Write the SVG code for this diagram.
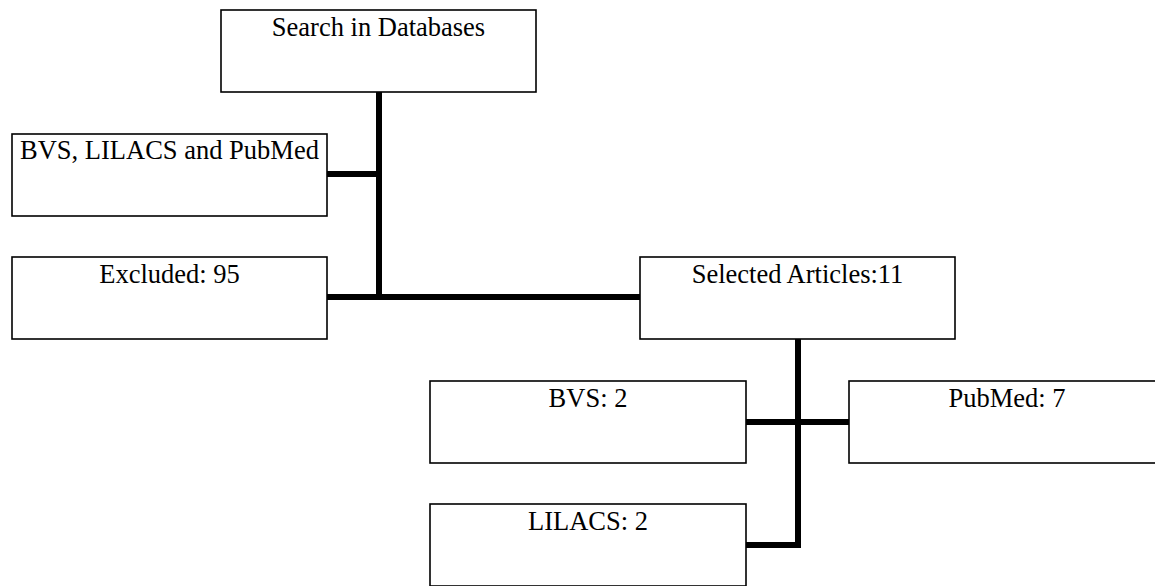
<svg xmlns="http://www.w3.org/2000/svg" width="1155" height="586" viewBox="0 0 1155 586">
<style>
.box{fill:#fff;stroke:#000;stroke-width:1.6}
.lbl{font-family:"Liberation Serif","Times New Roman",serif;font-size:26.5px;fill:#000;text-anchor:middle}
.conn{stroke:#000;stroke-width:6;fill:none;stroke-linecap:butt;stroke-linejoin:miter}
</style>
<rect width="1155" height="586" fill="#fff"/>
<g id="connectors">
<path class="conn" d="M379,92 V300"/>
<path class="conn" d="M327,174 H382"/>
<path class="conn" d="M327,297 H640"/>
<path class="conn" d="M798,339 V545 H746"/>
<path class="conn" d="M746,422 H849"/>
</g>
<g id="search">
<rect class="box" x="221" y="10" width="315" height="82"/>
<text class="lbl" x="378.5" y="36">Search in Databases</text>
</g>
<g id="databases">
<rect class="box" x="12" y="134" width="315" height="82"/>
<text class="lbl" x="169.5" y="159">BVS, LILACS and PubMed</text>
</g>
<g id="excluded">
<rect class="box" x="12" y="257" width="315" height="82"/>
<text class="lbl" x="169.5" y="283">Excluded: 95</text>
</g>
<g id="selected">
<rect class="box" x="640" y="257" width="315" height="82"/>
<text class="lbl" x="797.5" y="283">Selected Articles:11</text>
</g>
<g id="bvs">
<rect class="box" x="430" y="381" width="316" height="82"/>
<text class="lbl" x="588" y="407">BVS: 2</text>
</g>
<g id="pubmed">
<rect class="box" x="849" y="381" width="316" height="82"/>
<text class="lbl" x="1007" y="407">PubMed: 7</text>
</g>
<g id="lilacs">
<rect class="box" x="430" y="504" width="316" height="82"/>
<text class="lbl" x="588" y="530">LILACS: 2</text>
</g>
</svg>
